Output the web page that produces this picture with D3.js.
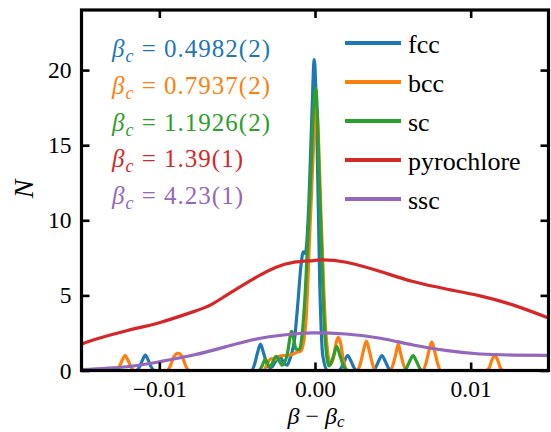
<!DOCTYPE html>
<html><head><meta charset="utf-8">
<script src="https://cdn.jsdelivr.net/npm/d3@7/dist/d3.min.js"></script>
<style>body{margin:0;background:#fff}svg{display:block}text{font-family:"Liberation Serif","DejaVu Serif",serif}</style>
</head><body><svg id="c" width="551" height="432"></svg>
<script>
// ---- data (x = beta - beta_c, y = N) ----
const xTicks = [-0.01, 0.00, 0.01];
const xTickLabels = ["\u22120.01", "0.00", "0.01"];
const yTicks = [0, 5, 10, 15, 20];
const seriesNames = ["fcc", "bcc", "sc", "pyrochlore", "ssc"];
const colors = ["#1f77b4", "#ff7f0e", "#2ca02c", "#d62728", "#9467bd"];
const betaC = ["0.4982(2)", "0.7937(2)", "1.1926(2)", "1.39(1)", "4.23(1)"];

const fcc = [[-0.015,0],[-0.0115,0],[-0.0113,0.2],[-0.0111,0.65],[-0.0109,1.03],[-0.0107,0.65],[-0.0105,0.2],[-0.0103,0],
 [-0.0041,0],[-0.0039,0.35],[-0.0037,1.15],[-0.0035,1.75],[-0.0033,1.15],[-0.0030,0.25],[-0.0028,0.2],
 [-0.0026,0.5],[-0.00225,0.92],[-0.0020,0.5],[-0.0018,0.35],[-0.0016,0.8],[-0.0013,2.2],[-0.0011,4.5],
 [-0.0009,7.0],[-0.00075,7.9],[-0.00062,7.8],[-0.0004,11],[-0.0002,17],[-0.00005,20.7],[0.0001,17],
 [0.0003,6],[0.0005,1],[0.0008,0],[0.0015,0],[0.0017,0.2],[0.0019,0.65],[0.0021,1.0],[0.0023,0.65],
 [0.0025,0.2],[0.0027,0],[0.0037,0],[0.0039,0.2],[0.0041,0.65],[0.0043,1.0],[0.0045,0.65],[0.0047,0.2],
 [0.0049,0],[0.015,0]];
const bcc = [[-0.015,0],[-0.0128,0],[-0.0126,0.2],[-0.0124,0.65],[-0.0122,1.0],[-0.0120,0.65],[-0.0118,0.2],[-0.0116,0],
 [-0.0095,0],[-0.0093,0.3],[-0.0091,0.85],[-0.0088,1.15],[-0.0085,0.85],[-0.0083,0.3],[-0.0081,0],
 [-0.0033,0],[-0.0030,0.6],[-0.0028,0.8],[-0.0026,0.7],[-0.0024,0.9],[-0.0021,1.0],[-0.0018,1.0],
 [-0.0015,1.05],[-0.0012,1.2],[-0.0009,1.3],[-0.0006,3],[-0.0003,10],[0.0001,17.5],[0.0004,10],
 [0.0007,2.5],[0.0010,0.4],[0.0012,0.9],[0.00135,1.8],[0.0015,2.2],[0.00165,1.8],[0.0018,0.8],[0.0021,0],
 [0.0027,0],[0.0029,0.4],[0.0031,1.27],[0.0033,1.95],[0.0035,1.27],[0.0037,0.4],[0.0039,0],
 [0.0048,0],[0.0050,0.35],[0.0052,1.14],[0.00535,1.75],[0.0055,1.14],[0.0057,0.35],[0.0059,0],
 [0.0069,0],[0.0071,0.38],[0.0073,1.23],[0.0075,1.9],[0.0077,1.23],[0.0079,0.38],[0.0081,0],
 [0.0110,0],[0.0112,0.2],[0.01135,0.65],[0.01155,1.0],[0.01175,0.65],[0.0119,0.2],[0.0121,0],[0.015,0]];
const sc = [[-0.015,0],[-0.0036,0],[-0.0034,0.3],[-0.0032,0.75],[-0.0029,0.25],[-0.0025,0.95],
 [-0.0021,0.35],[-0.0018,1.0],[-0.0015,2.6],[-0.0012,1.4],[-0.0010,1.4],[-0.0007,4],[-0.0004,10],
 [0.00005,18.8],[0.0003,12],[0.0006,3],[0.0009,0.3],[0.0012,1.0],[0.0014,1.6],[0.0016,1.0],[0.0018,0.4],[0.0021,0],
 [0.0057,0],[0.0059,0.2],[0.0061,0.65],[0.0063,1.0],[0.0065,0.65],[0.0067,0.2],[0.0069,0],[0.015,0]];
const pyrochlore = [[-0.0150,1.75],[-0.0142,2.05],[-0.0121,2.65],[-0.00995,3.2],[-0.0078,3.92],
 [-0.0067,4.37],[-0.0057,5.0],[-0.0046,5.7],[-0.0035,6.37],[-0.0025,6.88],[-0.0014,7.2],
 [-0.0001,7.32],[0.0005,7.37],[0.0020,7.21],[0.0042,6.59],[0.0063,5.92],[0.0085,5.41],
 [0.0106,4.97],[0.0127,4.37],[0.0150,3.5]];
const ssc = [[-0.0150,0.06],[-0.0121,0.25],[-0.00995,0.59],[-0.0078,1.03],[-0.0057,1.59],
 [-0.0035,2.15],[-0.0014,2.43],[-0.0001,2.5],[0.0020,2.43],[0.0042,2.15],[0.0063,1.7],
 [0.0085,1.32],[0.0106,1.1],[0.0127,1.03],[0.0150,1.01]];
const allSeries = [fcc, bcc, sc, pyrochlore, ssc];

// ---- layout ----
const L = 81.5, R = 548.5, T = 10, B = 370.5;
const svg = d3.select("#c");
const x = d3.scaleLinear().domain([-0.015, 0.015]).range([L, R]);
const y = d3.scaleLinear().domain([0, 24]).range([B, T]);

svg.append("clipPath").attr("id","clip").append("rect")
  .attr("x", L).attr("y", T).attr("width", R-L).attr("height", B-T);

const spiky = d3.line().x(d=>x(d[0])).y(d=>y(d[1])).curve(d3.curveMonotoneX);
const smooth = d3.line().x(d=>x(d[0])).y(d=>y(d[1])).curve(d3.curveNatural);
const g = svg.append("g").attr("clip-path","url(#clip)");
allSeries.forEach((s,i)=>{
  g.append("path").datum(s).attr("d", i < 3 ? spiky : smooth).attr("fill","none")
   .attr("stroke", colors[i]).attr("stroke-width", 3.2).attr("stroke-linejoin","round");
});

// ---- axes (ticks inward on all sides) ----
const tl = 8;
const axB = d3.axisBottom(x).tickValues(xTicks).tickSizeInner(-tl).tickSizeOuter(0).tickFormat((d,i)=>xTickLabels[i]).tickPadding(10);
const axT = d3.axisTop(x).tickValues(xTicks).tickSizeInner(-tl).tickSizeOuter(0).tickFormat("");
const axL = d3.axisLeft(y).tickValues(yTicks).tickSizeInner(-tl).tickSizeOuter(0).tickFormat(d3.format("d")).tickPadding(10);
const axR = d3.axisRight(y).tickValues(yTicks).tickSizeInner(-tl).tickSizeOuter(0).tickFormat("");
[[axB,`translate(0,${B})`],[axT,`translate(0,${T})`],[axL,`translate(${L},0)`],[axR,`translate(${R},0)`]].forEach(([a,t])=>{
  const gg = svg.append("g").attr("transform", t).call(a);
  gg.attr("font-family", null);
  gg.select(".domain").remove();
  gg.selectAll(".tick line").attr("stroke","#000").attr("stroke-width",2.6);
  gg.selectAll(".tick text").attr("font-size", 23.5).attr("fill","#000");
});
svg.append("rect").attr("x",L).attr("y",T).attr("width",R-L).attr("height",B-T)
  .attr("fill","none").attr("stroke","#000").attr("stroke-width",3.2);

// ---- axis labels ----
const xl = svg.append("text").attr("x", 316).attr("y", 424).attr("text-anchor","middle")
  .attr("font-size", 24);
xl.append("tspan").attr("font-style","italic").text("\u03b2");
xl.append("tspan").text(" \u2212 ");
xl.append("tspan").attr("font-style","italic").text("\u03b2");
xl.append("tspan").attr("font-style","italic").attr("font-size",17).attr("dy",3).text("c");
svg.append("text").attr("transform","translate(33,189) rotate(-90)").attr("text-anchor","middle")
  .attr("font-size", 28).attr("font-style","italic").text("N");

// ---- beta_c annotations ----
betaC.forEach((v,i)=>{
  const t = svg.append("text").attr("x",112).attr("y",57 + i*36.8)
    .attr("font-size", 25).attr("letter-spacing", 1).attr("fill", colors[i]);
  t.append("tspan").attr("font-style","italic").text("\u03b2");
  t.append("tspan").attr("font-style","italic").attr("font-size",18).attr("dy",5).text("c");
  t.append("tspan").attr("dy",-5).text(" = " + v);
});

// ---- legend ----
seriesNames.forEach((n,i)=>{
  const yy = 43 + i*39;
  svg.append("line").attr("x1",345).attr("x2",401).attr("y1",yy).attr("y2",yy)
    .attr("stroke", colors[i]).attr("stroke-width",4);
  svg.append("text").attr("x",408).attr("y",yy+10)
    .attr("font-size",26).attr("fill","#000").text(n);
});
</script></body></html>
